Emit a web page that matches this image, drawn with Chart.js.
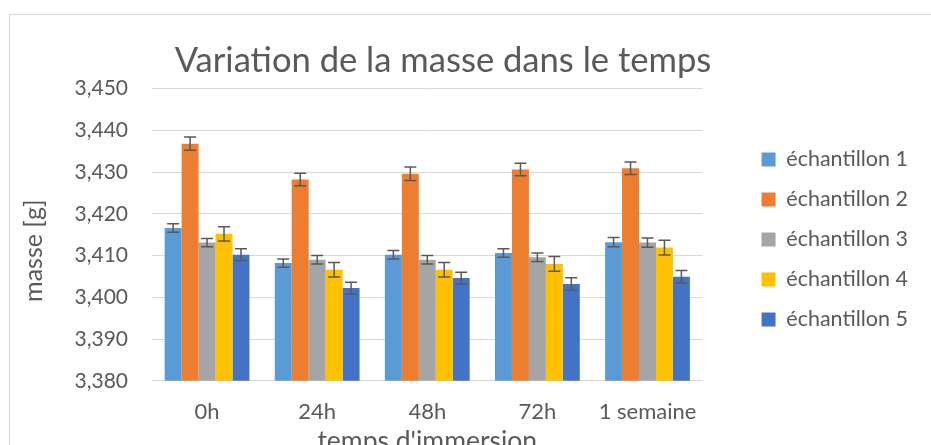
<!DOCTYPE html>
<html lang="fr">
<head>
    <meta charset="UTF-8">
    <title>Variation de la masse dans le temps</title>
    <style>
        html, body { margin: 0; padding: 0; background: #fff; overflow: hidden; }
        .cadre {
            position: absolute; left: 9px; top: 14px; width: 940px; height: 450px;
            border: 1px solid #d9d9d9; box-sizing: border-box; pointer-events: none;
        }
        #zone { position: absolute; left: 0; top: 0; width: 931px; height: 460px; }
    </style>
</head>
<body>
    <div class="cadre"></div>
    <div id="zone"><canvas id="graphe"></canvas></div>
    <script src="https://cdn.jsdelivr.net/npm/chart.js"></script>
    <script>
    // Données
    const temps = ['0h', '24h', '48h', '72h', '1 semaine'];
    const ech1 = [3.4166, 3.4082, 3.4102, 3.4106, 3.4132];
    const ech2 = [3.4368, 3.4282, 3.4296, 3.4306, 3.4309];
    const ech3 = [3.4131, 3.4090, 3.4090, 3.4096, 3.4131];
    const ech4 = [3.4152, 3.4066, 3.4066, 3.4080, 3.4119];
    const ech5 = [3.4102, 3.4022, 3.4046, 3.4032, 3.4049];
    // écarts (barres d'erreur)
    const err1 = [0.0010, 0.0010, 0.0010, 0.0010, 0.0011];
    const err2 = [0.0016, 0.0015, 0.0016, 0.0015, 0.0015];
    const err3 = [0.0010, 0.0010, 0.0010, 0.0010, 0.0011];
    const err4 = [0.0017, 0.00175, 0.00175, 0.00175, 0.00175];
    const err5 = [0.0014, 0.0014, 0.0014, 0.0015, 0.0015];
    const yTicks = [3.38, 3.39, 3.40, 3.41, 3.42, 3.43, 3.44, 3.45];

    const gris = '#595959';
    const police = 'Lato, "Open Sans", sans-serif';

    // dessine les barres d'erreur à partir des échelles
    const barresErreur = {
        id: 'barresErreur',
        afterDatasetsDraw(chart) {
            const ctx = chart.ctx;
            const y = chart.scales.y;
            ctx.save();
            ctx.strokeStyle = gris;
            ctx.lineWidth = 1.5;
            chart.data.datasets.forEach((ds, i) => {
                const meta = chart.getDatasetMeta(i);
                meta.data.forEach((bar, j) => {
                    const v = ds.data[j], e = ds.erreurs[j];
                    const haut = y.getPixelForValue(v + e);
                    const bas = y.getPixelForValue(v - e);
                    ctx.beginPath();
                    ctx.moveTo(bar.x, haut); ctx.lineTo(bar.x, bas);
                    ctx.moveTo(bar.x - 6, haut); ctx.lineTo(bar.x + 6, haut);
                    ctx.moveTo(bar.x - 6, bas); ctx.lineTo(bar.x + 6, bas);
                    ctx.stroke();
                });
            });
            ctx.restore();
        }
    };

    function serie(nom, valeurs, erreurs, couleur) {
        return {
            label: nom, data: valeurs, erreurs: erreurs,
            backgroundColor: couleur, borderWidth: 0,
            barPercentage: 1.0, categoryPercentage: 0.77
        };
    }

    new Chart(document.getElementById('graphe'), {
        type: 'bar',
        data: {
            labels: temps,
            datasets: [
                serie('échantillon 1', ech1, err1, '#5B9BD5'),
                serie('échantillon 2', ech2, err2, '#ED7D31'),
                serie('échantillon 3', ech3, err3, '#A5A5A5'),
                serie('échantillon 4', ech4, err4, '#FFC000'),
                serie('échantillon 5', ech5, err5, '#4472C4')
            ]
        },
        options: {
            responsive: true,
            maintainAspectRatio: false,
            animation: false,
            layout: { padding: { left: -32, right: 13, top: 22, bottom: 3 } },
            plugins: {
                title: {
                    display: true,
                    text: 'Variation de la masse dans le temps',
                    color: gris,
                    font: { family: police, size: 34.6, weight: 'normal' },
                    padding: { top: 18, bottom: 7 }
                },
                legend: {
                    position: 'right',
                    labels: {
                        color: gris,
                        boxWidth: 14, boxHeight: 14,
                        padding: 18.5,
                        font: { family: police, size: 21.5 }
                    }
                },
                tooltip: { enabled: false }
            },
            scales: {
                x: {
                    grid: { display: false, drawTicks: false },
                    border: { color: '#d9d9d9', width: 1 },
                    ticks: {
                        color: gris, font: { family: police, size: 22 }, padding: 18,
                        maxRotation: 0, minRotation: 0
                    },
                    title: {
                        display: true, text: "temps d'immersion", color: gris,
                        font: { family: police, size: 26.5 }, padding: { top: -18, bottom: 0 }
                    }
                },
                y: {
                    min: yTicks[0], max: yTicks[yTicks.length - 1],
                    afterBuildTicks(axis) { axis.ticks = yTicks.map(v => ({ value: v })); },
                    afterFit(axis) { axis.width = 184; },
                    grid: { color: '#d9d9d9', drawTicks: false },
                    border: { display: false },
                    ticks: {
                        color: gris, padding: 24,
                        font: { family: police, size: 21 },
                        callback: v => v.toFixed(3).replace('.', ',')
                    },
                    title: {
                        display: true, text: 'masse [g]     ', color: gris,
                        font: { family: police, size: 25 }, padding: { top: 51, bottom: 0 }
                    }
                },
                // axe caché : espace entre le graphique et la légende
                marge: {
                    position: 'right',
                    display: false,
                    afterFit(axis) { axis.width = 40.5; }
                }
            }
        },
        plugins: [barresErreur]
    });
    </script>
</body>
</html>
